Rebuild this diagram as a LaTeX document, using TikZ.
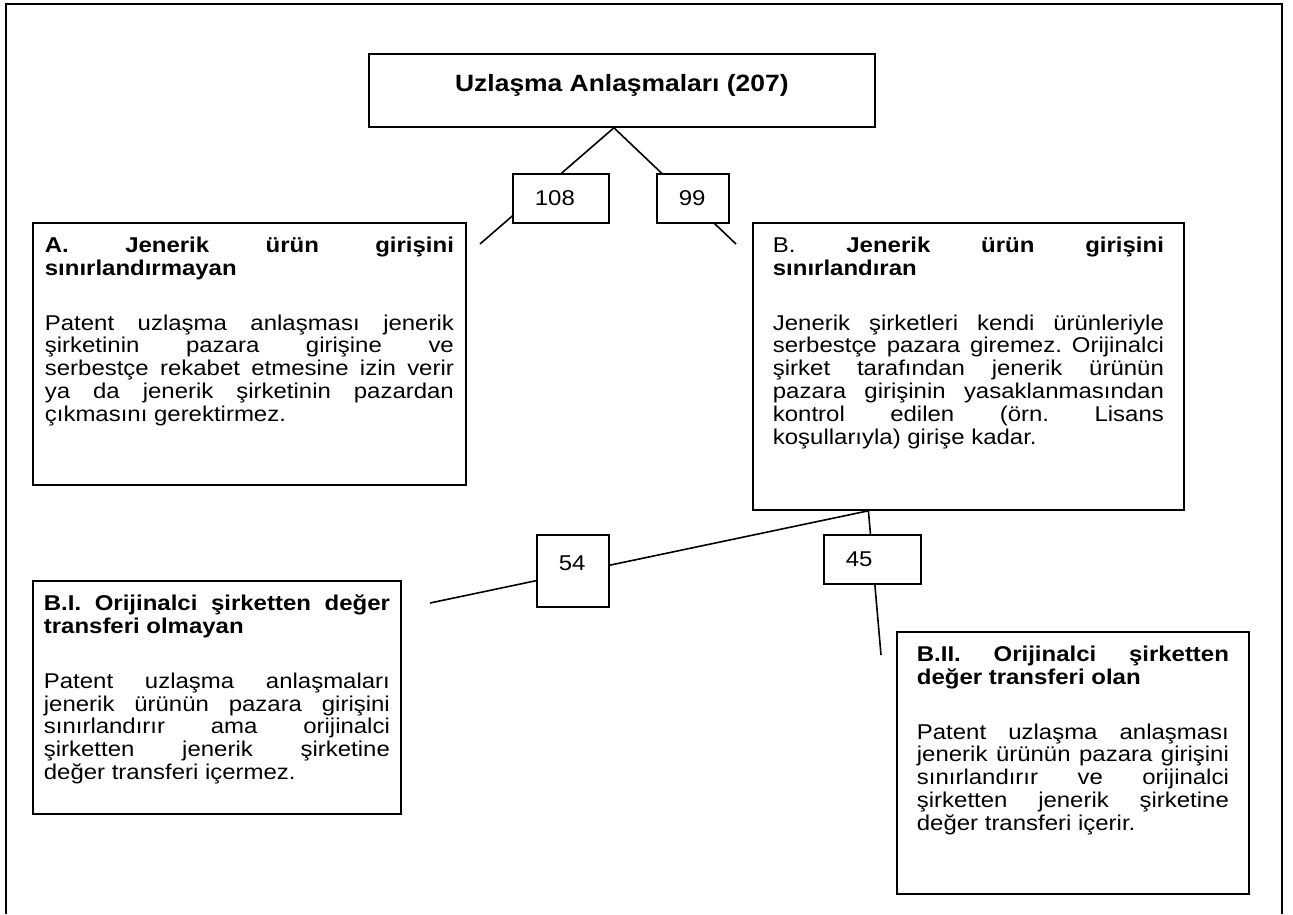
\documentclass[tikz,border=0pt]{standalone}
\usepackage{fontspec}
\setmainfont{Liberation Sans}[FakeStretch=1.12]
\usepackage{tikz}
\definecolor{FrameBlack}{HTML}{000000}

\newcommand{\panelbody}{\fontsize{10.7}{11.4}\selectfont\frenchspacing\tolerance=10000\hbadness=10000\hyphenpenalty=10000}

\tikzset{
  panel/.style={draw=FrameBlack, line width=0.9pt, fill=white, anchor=north west, inner ysep=7pt},
  countbox/.style={draw=FrameBlack, line width=0.9pt, fill=white, anchor=north west, inner xsep=11pt, inner ysep=0pt, align=left},
  link/.style={draw=FrameBlack, line width=0.8pt}
}

\begin{document}
\begin{tikzpicture}[x=0.5pt, y=-0.5pt, every node/.style={font=\fontsize{10.7}{11.4}\selectfont}]
  \useasboundingbox (0,0) rectangle (1293,914);
  \draw[line width=1pt] (6,914) -- (6,4.5) -- (1282,4.5) -- (1282,914);

  \node[draw, line width=0.9pt, anchor=north west, minimum width=253pt, minimum height=36.5pt, inner ysep=0pt, text height=8.4pt, text depth=7.5pt, font=\fontsize{11.8}{13}\selectfont\bfseries] (root) at (368,53) {Uzlaşma Anlaşmaları (207)};

  \node[panel, inner xsep=6pt] (boxA) at (32,222) {\parbox[t][117pt][t]{204.5pt}{\panelbody
    {\bfseries A. Jenerik ürün girişini\linebreak sınırlandırmayan\par}\vspace{16pt}
    Patent uzlaşma anlaşması jenerik\linebreak şirketinin pazara girişine ve\linebreak serbestçe rekabet etmesine izin verir\linebreak ya da jenerik şirketinin pazardan\linebreak çıkmasını gerektirmez.}};
  \node[panel, inner xsep=10pt] (boxB) at (752,222) {\parbox[t][129.5pt][t]{195.5pt}{\panelbody
    B. {\bfseries Jenerik ürün girişini\linebreak sınırlandıran\par}\vspace{16pt}
    Jenerik şirketleri kendi ürünleriyle\linebreak serbestçe pazara giremez. Orijinalci\linebreak şirket tarafından jenerik ürünün\linebreak pazara girişinin yasaklanmasından\linebreak kontrol edilen (örn. Lisans\linebreak koşullarıyla) girişe kadar.}};
  \node[panel, inner xsep=5.5pt] (boxBI) at (32,580) {\parbox[t][102.5pt][t]{173pt}{\panelbody
    {\bfseries B.I. Orijinalci şirketten değer\linebreak transferi olmayan\par}\vspace{16pt}
    Patent uzlaşma anlaşmaları\linebreak jenerik ürünün pazara girişini\linebreak sınırlandırır ama orijinalci\linebreak şirketten jenerik şirketine\linebreak değer transferi içermez.}};
  \node[panel, inner xsep=10pt] (boxBII) at (896,631) {\parbox[t][117pt][t]{156pt}{\panelbody
    {\bfseries B.II. Orijinalci şirketten\linebreak değer transferi olan\par}\vspace{16pt}
    Patent uzlaşma anlaşması\linebreak jenerik ürünün pazara girişini\linebreak sınırlandırır ve orijinalci\linebreak şirketten jenerik şirketine\linebreak değer transferi içerir.}};

  \coordinate (footA) at (480,244);
  \coordinate (footB) at (736,244);
  \coordinate (footBI) at (430,603);
  \coordinate (footBII) at (881,655);
  \draw[link] ([xshift=-4pt]root.south) -- (footA);
  \draw[link] ([xshift=-4pt]root.south) -- (footB);
  \draw[link] ([xshift=-50pt]boxB.south) -- (footBI);
  \draw[link] ([xshift=-50pt]boxB.south) -- (footBII);

  \node[countbox, text width=26pt, minimum height=24.5pt] (n108) at (512,173) {108};
  \node[countbox, text width=14pt, minimum height=24.5pt] (n99) at (656,173) {99};
  \node[countbox, text width=14pt, minimum height=36pt, text depth=8pt] (n54) at (536,534) {54};
  \node[countbox, text width=26.5pt, minimum height=24.5pt] (n45) at (823,534) {45};
\end{tikzpicture}
\end{document}
